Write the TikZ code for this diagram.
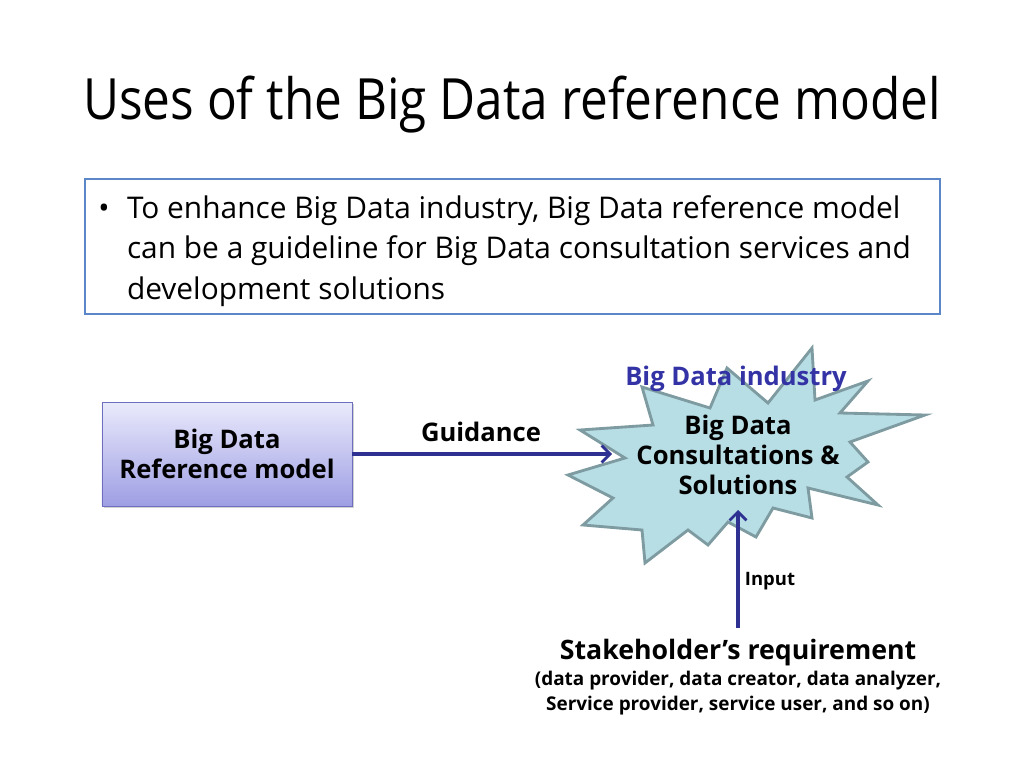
\documentclass[tikz,border=0pt]{standalone}
\usepackage{fontspec}
\setmainfont{Open Sans}
\newfontfamily\titlefont{Open Sans}[FakeStretch=0.87]
\usetikzlibrary{arrows.meta, positioning, shadows}
\definecolor{arrowblue}{RGB}{46,49,146}
\definecolor{industryblue}{RGB}{51,51,165}
\definecolor{frameblue}{RGB}{91,135,200}
\definecolor{burstfill}{RGB}{183,222,228}
\definecolor{burstline}{RGB}{125,155,160}
\definecolor{boxtop}{RGB}{234,234,252}
\definecolor{boxbottom}{RGB}{158,158,228}
\definecolor{boxline}{RGB}{110,110,190}
\tikzset{%
	bold label/.style={
		font=\bfseries\fontsize{18}{21}\selectfont,
		align=center
	},
	model box/.style={
		draw=boxline,
		line width=0.6pt,
		top color=boxtop,
		bottom color=boxbottom,
		minimum width=175.8pt,
		minimum height=73.1pt,
		drop shadow={shadow xshift=1.5pt, shadow yshift=-1.5pt, fill=black!35}
	},
	flow arrow/.style={
		draw=arrowblue,
		line width=2.6pt,
		-{Straight Barb[length=6pt,width=12pt,line width=1.9pt]}
	},
	burst/.style={
		draw=burstline,
		fill=burstfill,
		line width=2pt,
		line join=miter
	},
}
\begin{document}
\begin{tikzpicture}[x=0.703125pt, y=-0.703125pt]
			\useasboundingbox (0,0) rectangle (1024,768);
			\node (title) at (512,105) {\titlefont\fontsize{40}{48}\selectfont Uses of the Big Data reference model};
			
			\node[draw=frameblue, line width=1.5pt, minimum width=601pt, minimum height=95pt] (frame) at (512.5,246.5) {};
			\node (dot) at (104,211) {\fontsize{21}{28}\selectfont\textbullet};
			\node[anchor=west, align=left, font=\fontsize{21}{28.3}\selectfont] (aim) at (122,251) {To enhance Big Data industry, Big Data reference model\\can be a guideline for Big Data consultation services and\\development solutions};
			
			\node[model box, bold label] (model) at (227,454) {Big Data\\Reference model};
			
			\draw[burst] (812,348) -- (815,400) -- (868,381) -- (840,413) -- (925,415)
				-- (850,442) -- (868,462) -- (847,477) -- (878,505) -- (808,488)
				-- (812,518) -- (773,508) -- (756,537) -- (728,522) -- (708,545)
				-- (688,530) -- (645,563) -- (642,530) -- (583,525) -- (613,498)
				-- (568,475) -- (625,458) -- (580,430) -- (653,425) -- (642,387)
				-- (710,408) -- (727,368) -- (768,403) -- cycle;
			\node[bold label] (burst) at (738,455) {Big Data\\Consultations \&\\Solutions};
			\node[bold label, text=industryblue] (industry) at (736,379) {Big Data industry};
			
			\coordinate (guideend) at (612,454);
			\coordinate (inputend) at (738,510);
			\coordinate (inputstart) at (738,628);
			\node[bold label] (guidance) at (481,432) {Guidance};
			\node[font=\bfseries\fontsize{13}{15}\selectfont] (input) at (770,581) {Input};
			
			\node[font=\bfseries\fontsize{18.8}{22}\selectfont] (stake) at (738,653) {Stakeholder’s requirement};
			\node[font=\bfseries\fontsize{13.3}{17}\selectfont, align=center] (roles) at (738,693) {(data provider, data creator, data analyzer,\\Service provider, service user, and so on)};
			
			\draw[flow arrow] (model.east) -- (guideend);
			\draw[flow arrow] (inputstart) -- (inputend);
			
		\end{tikzpicture}
\end{document}
